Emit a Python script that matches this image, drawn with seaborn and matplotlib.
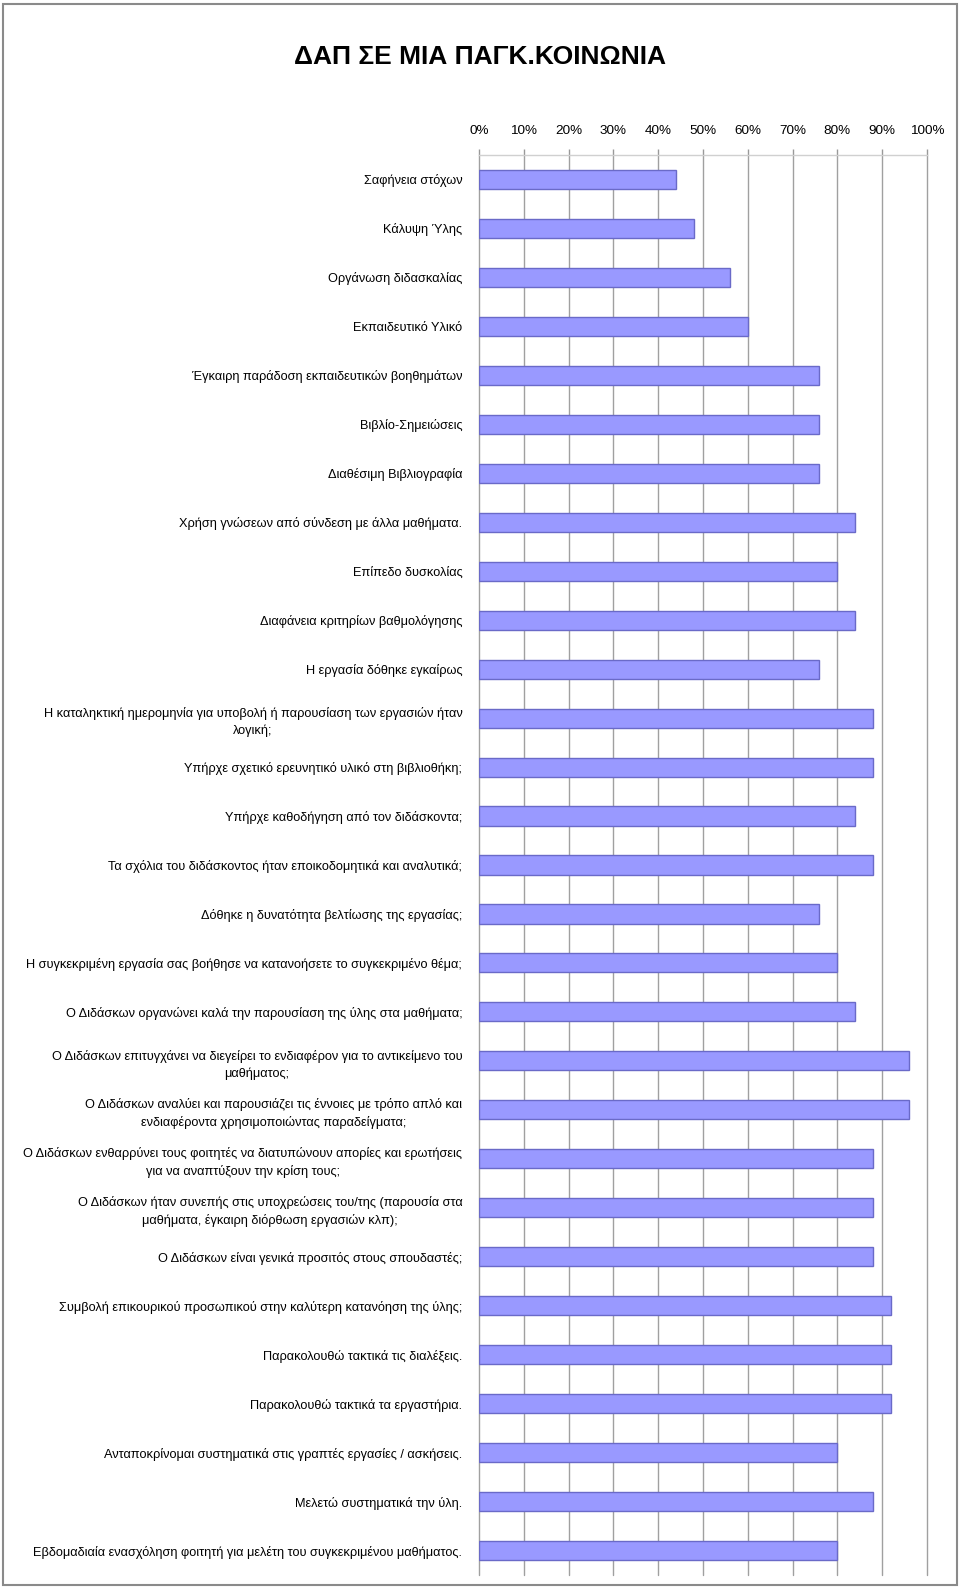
import matplotlib
matplotlib.use('Agg')
import matplotlib.pyplot as plt
import seaborn as sns
import pandas as pd
from matplotlib.patches import Rectangle
from matplotlib.ticker import PercentFormatter

# categories (top to bottom) and percentage values
categories = [
    'Σαφήνεια στόχων',
    'Κάλυψη Ύλης',
    'Οργάνωση διδασκαλίας',
    'Εκπαιδευτικό Υλικό',
    'Έγκαιρη παράδοση εκπαιδευτικών βοηθημάτων',
    'Βιβλίο-Σημειώσεις',
    'Διαθέσιμη Βιβλιογραφία',
    'Χρήση γνώσεων από σύνδεση με άλλα μαθήματα.',
    'Επίπεδο δυσκολίας',
    'Διαφάνεια κριτηρίων βαθμολόγησης',
    'Η εργασία δόθηκε εγκαίρως',
    'Η καταληκτική ημερομηνία για υποβολή ή παρουσίαση των εργασιών ήταν\nλογική;',
    'Υπήρχε σχετικό ερευνητικό υλικό στη βιβλιοθήκη;',
    'Υπήρχε καθοδήγηση από τον διδάσκοντα;',
    'Τα σχόλια του διδάσκοντος ήταν εποικοδομητικά και αναλυτικά;',
    'Δόθηκε η δυνατότητα βελτίωσης της εργασίας;',
    'Η συγκεκριμένη εργασία σας βοήθησε να κατανοήσετε το συγκεκριμένο θέμα;',
    'Ο Διδάσκων οργανώνει καλά την παρουσίαση της ύλης στα μαθήματα;',
    'Ο Διδάσκων επιτυγχάνει να διεγείρει το ενδιαφέρον για το αντικείμενο του\nμαθήματος;',
    'Ο Διδάσκων αναλύει και παρουσιάζει τις έννοιες με τρόπο απλό και\nενδιαφέροντα χρησιμοποιώντας παραδείγματα;',
    'Ο Διδάσκων ενθαρρύνει τους φοιτητές να διατυπώνουν απορίες και ερωτήσεις\nγια να αναπτύξουν την κρίση τους;',
    'Ο Διδάσκων ήταν συνεπής στις υποχρεώσεις του/της (παρουσία στα\nμαθήματα, έγκαιρη διόρθωση εργασιών κλπ);',
    'Ο Διδάσκων είναι γενικά προσιτός στους σπουδαστές;',
    'Συμβολή επικουρικού προσωπικού στην καλύτερη κατανόηση της ύλης;',
    'Παρακολουθώ τακτικά τις διαλέξεις.',
    'Παρακολουθώ τακτικά τα εργαστήρια.',
    'Ανταποκρίνομαι συστηματικά στις γραπτές εργασίες / ασκήσεις.',
    'Μελετώ συστηματικά την ύλη.',
    'Εβδομαδιαία ενασχόληση φοιτητή για μελέτη του συγκεκριμένου μαθήματος.',
]
values = [44, 48, 56, 60, 76, 76, 76, 84, 80, 84, 76, 88, 88, 84, 88, 76,
          80, 84, 96, 96, 88, 88, 88, 92, 92, 92, 80, 88, 80]

title = 'ΔΑΠ ΣΕ ΜΙΑ ΠΑΓΚ.ΚΟΙΝΩΝΙΑ'

df = pd.DataFrame({'cat': categories, 'val': values})

sns.set_theme(style='white')
plt.rcParams['font.family'] = ['Liberation Sans', 'DejaVu Sans']

fig = plt.figure(figsize=(9.6, 15.88), dpi=100)
ax = fig.add_axes([479 / 960, 1 - 1575 / 1588, 448 / 960, 1420 / 1588])

sns.barplot(data=df, y='cat', x='val', orient='h', ax=ax, width=0.39,
            color='#9999ff', saturation=1, edgecolor='#6a6ac8', linewidth=1,
            zorder=3)

ax.set_xlim(0, 100)
ax.xaxis.set_major_locator(plt.MultipleLocator(10))
ax.xaxis.set_major_formatter(PercentFormatter(decimals=0))
ax.xaxis.tick_top()
ax.tick_params(axis='x', which='major', top=True, bottom=False, length=4,
               width=1, color='#999999', labelsize=9.7, pad=9, labelcolor='black')
ax.tick_params(axis='y', left=False, labelsize=9.2, pad=6, labelcolor='black')
for lab in ax.get_yticklabels():
    lab.set_multialignment('center')
    lab.set_linespacing(1.5)

ax.grid(axis='x', color='#a0a0a0', linewidth=1, zorder=0)
ax.grid(axis='y', visible=False)
for gl in ax.get_xgridlines():
    gl.set_clip_on(False)
for side in ['bottom', 'right', 'left']:
    ax.spines[side].set_visible(False)
ax.spines['top'].set_color('#d0d0d0')
ax.spines['top'].set_linewidth(1)
ax.set_xlabel('')
ax.set_ylabel('')

fig.text(0.5, 1 - 57 / 1588, title, ha='center', va='center', fontsize=19,
         fontweight='bold', color='black')

# outer frame
fig.patches.append(Rectangle((3 / 960, 3 / 1588), 954 / 960, 1581 / 1588,
                             transform=fig.transFigure, fill=False,
                             edgecolor='#8a8a8a', linewidth=1.5))

fig.savefig('out.png', dpi=100)
